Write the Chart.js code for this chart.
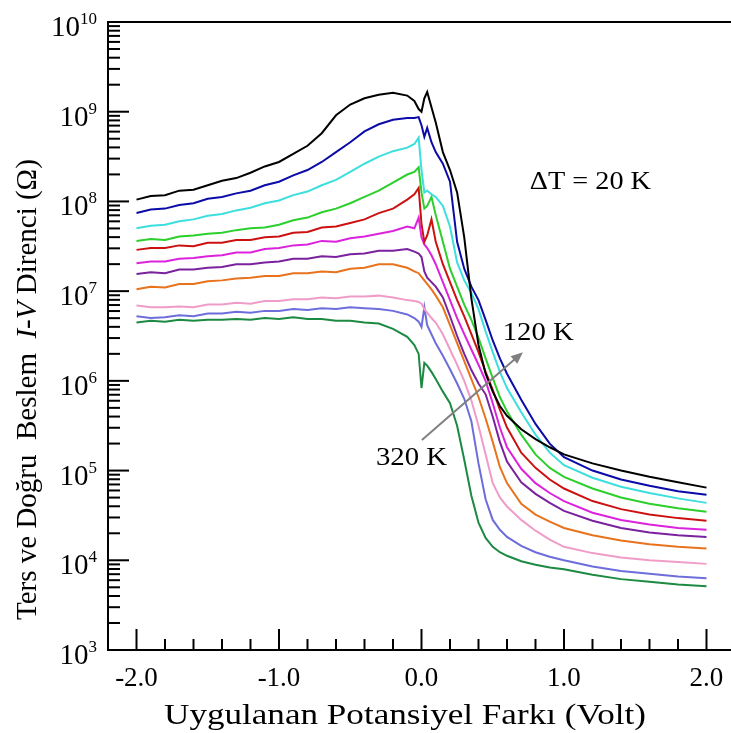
<!DOCTYPE html>
<html>
<head>
<meta charset="utf-8">
<script src="https://cdn.jsdelivr.net/npm/chart.js@4.4.1/dist/chart.umd.min.js"></script>
<style>
  html, body { margin: 0; padding: 0; background: #fff; }
</style>
</head>
<body>
<canvas id="ivChart" width="731" height="733"></canvas>
<script>
// voltages (V) shared by all curves
const voltage = [-2.0,-1.9,-1.8,-1.7,-1.6,-1.5,-1.4,-1.3,-1.2,-1.1,-1.0,-0.9,-0.8,-0.7,-0.6,-0.5,-0.4,-0.3,-0.2,-0.1,
  -0.05,-0.02,0.0,0.02,0.04,0.07,0.1,0.15,0.2,0.25,0.3,0.35,0.4,0.45,0.5,0.55,0.6,0.7,0.8,0.9,1.0,1.2,1.4,1.6,1.8,2.0];

// log10 of resistance (Ohm), one array per temperature
const logR120 = [8.02,8.06,8.07,8.12,8.13,8.18,8.23,8.26,8.32,8.39,8.44,8.53,8.62,8.76,8.96,9.08,9.15,9.19,9.21,9.18,
  9.12,9.03,9.00,9.15,9.22,9.05,8.88,8.55,8.35,8.10,7.60,6.92,6.40,6.08,5.88,5.72,5.61,5.46,5.35,5.26,5.18,5.08,5.00,4.93,4.87,4.81];
const logR140 = [7.87,7.91,7.92,7.96,7.98,8.03,8.05,8.09,8.12,8.18,8.22,8.29,8.35,8.44,8.55,8.66,8.78,8.86,8.91,8.93,
  8.93,8.94,8.85,8.72,8.82,8.66,8.55,8.42,8.22,7.55,7.25,7.05,6.90,6.68,6.45,6.25,6.08,5.79,5.52,5.30,5.15,5.00,4.90,4.83,4.77,4.73];
const logR160 = [7.70,7.73,7.74,7.78,7.80,7.84,7.86,7.90,7.93,7.98,8.01,8.07,8.11,8.18,8.24,8.33,8.42,8.50,8.56,8.60,
  8.64,8.71,8.35,8.10,8.12,8.08,8.05,7.95,7.72,7.32,7.12,6.98,6.80,6.55,6.32,6.10,5.92,5.65,5.40,5.20,5.06,4.92,4.82,4.75,4.69,4.64];
const logR180 = [7.56,7.58,7.57,7.61,7.62,7.64,7.65,7.68,7.70,7.71,7.74,7.79,7.82,7.88,7.92,7.98,8.05,8.12,8.21,8.30,
  8.33,8.38,8.10,7.92,7.95,8.05,7.85,7.55,7.25,7.05,6.85,6.68,6.48,6.25,6.03,5.82,5.66,5.40,5.18,5.03,4.93,4.80,4.70,4.63,4.58,4.54];
const logR200 = [7.46,7.48,7.48,7.51,7.50,7.54,7.54,7.57,7.57,7.60,7.61,7.65,7.66,7.71,7.72,7.76,7.80,7.87,7.92,8.02,
  8.08,8.15,7.75,7.55,7.62,7.80,7.55,7.30,7.10,6.90,6.72,6.52,6.32,6.10,5.90,5.68,5.48,5.20,5.03,4.90,4.80,4.66,4.57,4.51,4.47,4.44];
const logR220 = [7.31,7.33,7.33,7.36,7.37,7.39,7.40,7.43,7.43,7.47,7.48,7.51,7.52,7.56,7.55,7.59,7.61,7.64,7.67,7.72,
  7.70,7.82,7.60,7.52,7.48,7.40,7.30,7.10,6.90,6.70,6.52,6.35,6.18,6.00,5.75,5.48,5.26,5.02,4.86,4.75,4.66,4.53,4.45,4.40,4.36,4.34];
const logR240 = [7.19,7.21,7.20,7.24,7.24,7.26,7.27,7.30,7.30,7.32,7.33,7.36,7.36,7.39,7.38,7.41,7.42,7.45,7.45,7.47,
  7.44,7.42,7.38,7.22,7.15,7.10,7.05,6.93,6.72,6.50,6.30,6.12,5.97,5.85,5.60,5.32,5.10,4.87,4.74,4.64,4.55,4.44,4.36,4.31,4.28,4.26];
const logR260 = [7.02,7.05,7.04,7.08,7.08,7.11,7.12,7.14,7.15,7.17,7.17,7.20,7.20,7.22,7.21,7.25,7.26,7.30,7.30,7.26,
  7.22,7.20,7.16,7.12,7.08,7.02,6.95,6.82,6.62,6.42,6.22,6.02,5.82,5.58,5.32,5.04,4.86,4.63,4.51,4.43,4.36,4.28,4.22,4.18,4.15,4.13];
const logR280 = [6.84,6.82,6.82,6.83,6.82,6.85,6.85,6.87,6.86,6.89,6.89,6.91,6.91,6.93,6.92,6.94,6.94,6.95,6.93,6.90,
  6.89,6.88,6.86,6.80,6.76,6.70,6.65,6.52,6.35,6.18,6.00,5.78,5.50,5.18,4.86,4.70,4.60,4.45,4.33,4.23,4.15,4.08,4.03,4.00,3.98,3.96];
const logR300 = [6.72,6.70,6.71,6.73,6.72,6.75,6.75,6.77,6.76,6.78,6.78,6.80,6.79,6.81,6.80,6.82,6.81,6.80,6.78,6.74,
  6.70,6.66,6.60,6.82,6.62,6.52,6.42,6.28,6.13,5.97,5.80,5.55,5.08,4.68,4.45,4.34,4.26,4.16,4.09,4.04,4.00,3.93,3.88,3.85,3.82,3.80];
const logR320 = [6.65,6.67,6.66,6.68,6.67,6.68,6.68,6.69,6.68,6.70,6.69,6.71,6.69,6.69,6.67,6.67,6.65,6.64,6.58,6.49,
  6.40,6.30,5.92,6.20,6.17,6.10,6.02,5.88,5.75,5.50,5.12,4.72,4.42,4.25,4.15,4.09,4.05,3.99,3.95,3.92,3.90,3.84,3.79,3.76,3.73,3.71];

const curves = [
  { label: '120 K', logR: logR120, color: '#000000' },
  { label: '140 K', logR: logR140, color: '#0b0ba8' },
  { label: '160 K', logR: logR160, color: '#3cdede' },
  { label: '180 K', logR: logR180, color: '#2ccf2c' },
  { label: '200 K', logR: logR200, color: '#cc1111' },
  { label: '220 K', logR: logR220, color: '#dd22dd' },
  { label: '240 K', logR: logR240, color: '#7a229e' },
  { label: '260 K', logR: logR260, color: '#e8731c' },
  { label: '280 K', logR: logR280, color: '#f09cc8' },
  { label: '300 K', logR: logR300, color: '#6d6ddc' },
  { label: '320 K', logR: logR320, color: '#1c8a42' }
];

const xTicks = [-2.0, -1.0, 0.0, 1.0, 2.0];
const yDecades = [3, 4, 5, 6, 7, 8, 9, 10];

const SERIF = "'Liberation Serif', 'Times New Roman', serif";

function strokeLine(ctx, x1, y1, x2, y2) {
  ctx.beginPath();
  ctx.moveTo(x1, y1);
  ctx.lineTo(x2, y2);
  ctx.stroke();
}

// the original lettering is a bit wider than Liberation Serif, so stretch it sideways
function wideText(ctx, text, x, y, font, sx, align) {
  ctx.save();
  ctx.font = font;
  ctx.textAlign = align;
  ctx.textBaseline = 'middle';
  ctx.translate(x, y);
  ctx.scale(sx, 1);
  ctx.fillText(text, 0, 0);
  ctx.restore();
}

// axes frame, inward ticks, labels and annotations drawn on top of the chart
const framePlugin = {
  id: 'frame',
  afterDraw(chart) {
    const { ctx, chartArea: a, scales: { x, y } } = chart;
    ctx.save();
    ctx.strokeStyle = '#000';
    ctx.fillStyle = '#000';
    ctx.lineWidth = 2;

    ctx.beginPath();
    ctx.moveTo(chart.width, a.top);
    ctx.lineTo(a.left, a.top);
    ctx.lineTo(a.left, a.bottom);
    ctx.lineTo(chart.width, a.bottom);
    ctx.stroke();

    // y ticks
    yDecades.forEach(k => {
      const py = y.getPixelForValue(Math.pow(10, k));
      strokeLine(ctx, a.left, py, a.left + 21, py);
      if (k < 10) {
        for (let m = 2; m <= 9; m++) {
          const pm = y.getPixelForValue(m * Math.pow(10, k));
          strokeLine(ctx, a.left, pm, a.left + 12, pm);
        }
      }
      // label 10^k
      ctx.textBaseline = 'alphabetic';
      ctx.textAlign = 'right';
      ctx.font = '17px ' + SERIF;
      const exp = String(k);
      const ew = ctx.measureText(exp).width;
      ctx.fillText(exp, 97, py + 2);
      ctx.font = '29px ' + SERIF;
      ctx.fillText('10', 97 - ew, py + 14);
    });

    // x ticks
    for (let v = -20; v <= 20; v += 2) {
      const px = x.getPixelForValue(v / 10);
      const major = v % 10 === 0;
      strokeLine(ctx, px, a.bottom, px, a.bottom - (major ? 21 : 11));
    }
    ctx.font = '27px ' + SERIF;
    ctx.textAlign = 'center';
    ctx.textBaseline = 'middle';
    xTicks.forEach(v => {
      ctx.fillText(v.toFixed(1), x.getPixelForValue(v), 679);
    });

    // x title
    wideText(ctx, 'Uygulanan Potansiyel Farkı (Volt)', 405, 716, '30px ' + SERIF, 1.17, 'center');

    // y title (rotated, with italic I-V)
    ctx.save();
    ctx.translate(28, 620);
    ctx.rotate(-Math.PI / 2);
    ctx.textAlign = 'left';
    ctx.textBaseline = 'middle';
    const parts = [
      ['Ters ve Doğru  Beslem  ', false],
      ['I-V', true],
      [' Direnci (Ω)', false]
    ];
    let cx = 0;
    parts.forEach(([t, it]) => {
      ctx.font = (it ? 'italic ' : '') + '29px ' + SERIF;
      ctx.fillText(t, cx, 0);
      cx += ctx.measureText(t).width;
    });
    ctx.restore();

    // annotations in data coordinates
    const annFont = '25px ' + SERIF;
    wideText(ctx, 'ΔT = 20 K', x.getPixelForValue(0.76), y.getPixelForValue(Math.pow(10, 8.21)), annFont, 1.13, 'left');
    wideText(ctx, '120 K', x.getPixelForValue(0.57), y.getPixelForValue(Math.pow(10, 6.53)), annFont, 1.15, 'left');
    wideText(ctx, '320 K', x.getPixelForValue(-0.32), y.getPixelForValue(Math.pow(10, 5.14)), annFont, 1.15, 'left');

    const x1 = x.getPixelForValue(0.003), y1 = y.getPixelForValue(Math.pow(10, 5.34));
    const x2 = x.getPixelForValue(0.712), y2 = y.getPixelForValue(Math.pow(10, 6.32));
    ctx.strokeStyle = '#808080';
    ctx.fillStyle = '#808080';
    ctx.lineWidth = 2;
    const ang = Math.atan2(y2 - y1, x2 - x1);
    strokeLine(ctx, x1, y1, x2 - 6 * Math.cos(ang), y2 - 6 * Math.sin(ang));
    ctx.beginPath();
    ctx.moveTo(x2, y2);
    ctx.lineTo(x2 - 13 * Math.cos(ang - 0.4), y2 - 13 * Math.sin(ang - 0.4));
    ctx.lineTo(x2 - 13 * Math.cos(ang + 0.4), y2 - 13 * Math.sin(ang + 0.4));
    ctx.closePath();
    ctx.fill();

    ctx.restore();
  }
};

const ctx = document.getElementById('ivChart');

new Chart(ctx, {
  type: 'line',
  data: {
    datasets: curves.map(c => ({
      label: c.label,
      data: voltage.map((v, i) => ({ x: v, y: Math.pow(10, c.logR[i]) })),
      borderColor: c.color,
      borderWidth: 2,
      pointRadius: 0,
      tension: 0,
      fill: false
    }))
  },
  options: {
    responsive: false,
    animation: false,
    devicePixelRatio: 1,
    layout: { padding: { left: 108, top: 22, right: 0, bottom: 83 } },
    plugins: { legend: { display: false }, tooltip: { enabled: false } },
    scales: {
      x: { type: 'linear', min: -2.2, max: 2.172, display: false },
      y: { type: 'logarithmic', min: 1e3, max: 1e10, display: false }
    }
  },
  plugins: [framePlugin]
});
</script>
</body>
</html>
